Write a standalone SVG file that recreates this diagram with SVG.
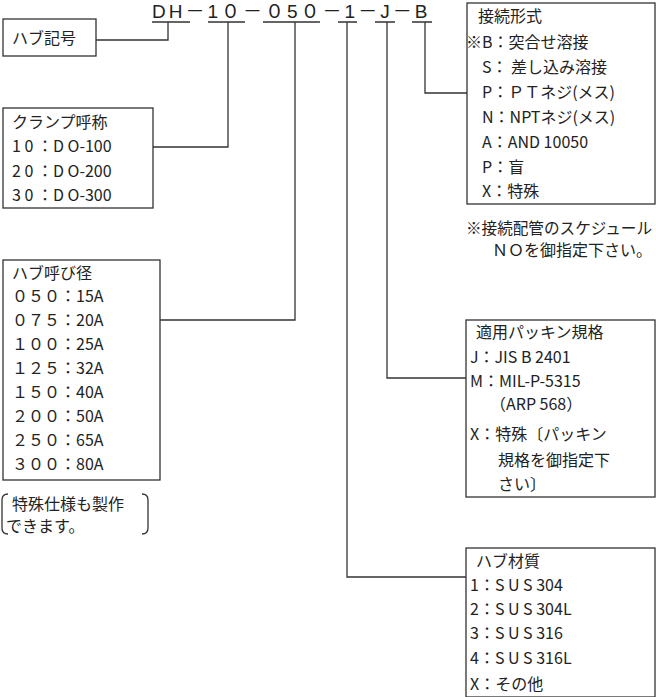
<svg xmlns="http://www.w3.org/2000/svg" width="656" height="697" viewBox="0 0 656 697">
<style>
text{font-family:"Noto Sans CJK JP","Liberation Serif",serif;font-size:16px;fill:#222}
.b{fill:#fff;stroke:#333;stroke-width:1.3}
.c{fill:none;stroke:#333;stroke-width:1.3}
.code{font-family:"Liberation Sans","Noto Sans CJK JP",sans-serif;font-size:19px;letter-spacing:3px}
</style>
<rect width="656" height="697" fill="#fff"/>
<g id="code"><text class="code" x="152" y="18">DH－1０－０5０－1－J－B</text></g>
<g id="connectors" class="c">
<path d="M152 22H190M208 22H245M263 22H320M338 22H357M375 22H395M412 22H432"/>
<path d="M96 40H168V22"/>
<path d="M153 147H228V22"/>
<path d="M160 320H295V22"/>
<path d="M347 22V577H466"/>
<path d="M387 22V378H466"/>
<path d="M425 22V93H467"/>
</g>
<g id="hub"><rect class="b" x="3" y="19" width="93" height="37"/><text x="12" y="44">ハブ記号</text></g>
<g id="clamp"><rect class="b" x="3" y="108" width="150" height="100"/>
<text x="12" y="128">クランプ呼称</text>
<text x="12" y="152">1 0 ：D O-100</text>
<text x="12" y="177">2 0 ：D O-200</text>
<text x="12" y="201">3 0 ：D O-300</text></g>
<g id="dia"><rect class="b" x="3" y="260" width="157" height="220"/>
<text x="12" y="279">ハブ呼び径</text>
<text x="12" y="302">０５０：15A</text>
<text x="12" y="326">０７５：20A</text>
<text x="12" y="350">１００：25A</text>
<text x="12" y="374">１２５：32A</text>
<text x="12" y="398">１５０：40A</text>
<text x="12" y="422">２００：50A</text>
<text x="12" y="446">２５０：65A</text>
<text x="12" y="470">３００：80A</text></g>
<g id="special"><path class="c" d="M8 494Q2 494 2 500V528Q2 534 8 534M142 494Q148 494 148 500V528Q148 534 142 534"/>
<text x="12" y="510">特殊仕様も製作</text><text x="6" y="532">できます。</text></g>
<g id="conn"><rect class="b" x="467" y="3" width="188" height="201"/>
<text x="478" y="22">接続形式</text>
<text x="466" y="48">※B：突合せ溶接</text>
<text x="482" y="73">S： 差し込み溶接</text>
<text x="482" y="98">P：ＰＴネジ(メス)</text>
<text x="482" y="123">N：NPTネジ(メス)</text>
<text x="482" y="148">A：AND 10050</text>
<text x="482" y="173">P：盲</text>
<text x="482" y="197">X：特殊</text></g>
<g id="note"><text x="466" y="234" font-size="13" textLength="186" lengthAdjust="spacingAndGlyphs">※接続配管のスケジュール</text><text x="492" y="256" font-size="13">ＮＯを御指定下さい。</text></g>
<g id="pack"><rect class="b" x="466" y="320" width="189" height="177"/>
<text x="476" y="338">適用パッキン規格</text>
<text x="470" y="363">J：JIS B 2401</text>
<text x="470" y="387">M：MIL-P-5315</text>
<text x="490" y="410">（ARP 568）</text>
<text x="470" y="440">X：特殊〔パッキン</text>
<text x="498" y="466">規格を御指定下</text>
<text x="498" y="490">さい〕</text></g>
<g id="mat"><rect class="b" x="466" y="548" width="189" height="149"/>
<text x="476" y="567">ハブ材質</text>
<text x="470" y="591">1：S U S  304</text>
<text x="470" y="615">2：S U S  304L</text>
<text x="470" y="639">3：S U S  316</text>
<text x="470" y="664">4：S U S  316L</text>
<text x="470" y="690">X：その他</text></g>
</svg>
